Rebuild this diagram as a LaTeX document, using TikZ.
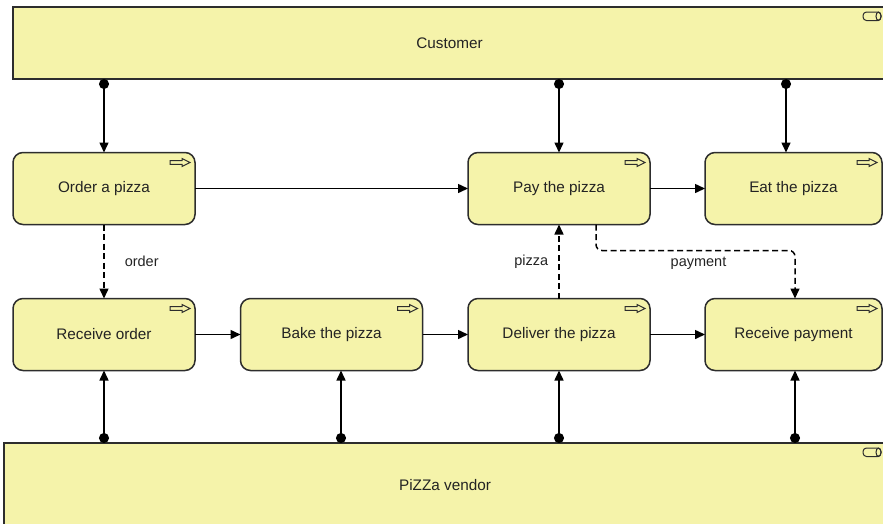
\documentclass[tikz,border=0pt]{standalone}
\usepackage{fontspec}
\setmainfont{Liberation Sans}
\usetikzlibrary{arrows.meta,calc}
\definecolor{boxfill}{RGB}{245,243,170}
\definecolor{boxline}{RGB}{45,45,45}
\definecolor{ink}{RGB}{35,35,35}

\tikzset{
  procicon/.pic={
    \draw[line width=1pt, draw=boxline]
      (0,2.2) -- (12,2.2) -- (12,0) -- (20,4) -- (12,8) -- (12,5.8) -- (0,5.8) -- cycle;
  },
  roleicon/.pic={
    \draw[line width=1pt, draw=boxline, rounded corners=3.5pt] (0,0) rectangle (18,8.5);
    \draw[line width=1pt, draw=boxline] (15.5,4.25) ellipse (2.5pt and 4.25pt);
  }
}

\begin{document}
\begin{tikzpicture}[x=1pt,y=-1pt,
  every node/.style={font=\fontsize{15.3}{18}\selectfont, text=ink},
  band/.style={draw=boxline, fill=boxfill, line width=1.5pt, inner sep=0pt, outer sep=0pt},
  proc/.style={band, rounded corners=10pt, minimum width=182pt, minimum height=72pt},
  link/.style={draw=black, line width=1.5pt},
  flow/.style={link, {Circle[length=10pt]}-{Triangle[length=10pt,width=9pt]}},
  trig/.style={link, -{Triangle[length=10pt,width=9pt]}},
  acc/.style={link, dash pattern=on 6pt off 3.5pt, -{Triangle[length=10pt,width=9pt]}},
  lbl/.style={font=\fontsize{14.5}{17}\selectfont, text=ink, inner sep=0pt}
]
\useasboundingbox (0,0) rectangle (883,523);

% actor bands
\node[band, minimum width=873pt, minimum height=72pt] (cust) at (449.5,43) {Customer};
\node[band, minimum width=882pt, minimum height=84pt] (vend) at (445,485) {PiZZa vendor};
\pic at (863,12) {roleicon};
\pic at (863,448) {roleicon};

% processes
\node[proc] (ordr) at (104,188.5) {Order a pizza};
\node[proc] (pay)  at (559,188.5) {Pay the pizza};
\node[proc, minimum width=177pt] (eat) at (793.5,188.5) {Eat the pizza};
\node[proc] (rcvo) at (104,334.5) {Receive order};
\node[proc] (bake) at (331.5,334.5) {Bake the pizza};
\node[proc] (dlvr) at (559,334.5) {Deliver the pizza};
\node[proc, minimum width=177pt] (rcvp) at (793.5,334.5) {Receive payment};

\foreach \n in {ordr,pay,eat,rcvo,bake,dlvr,rcvp}
  \pic at ([xshift=-25pt,yshift=-6pt]\n.north east) {procicon};

% attachment points off the box centres
\coordinate (eattop)  at ([xshift=-7.5pt]eat.north);
\coordinate (bakebot) at ([xshift=9.5pt]bake.south);
\coordinate (rcvpbot) at ([xshift=1.5pt]rcvp.south);
\coordinate (paydrop) at ([xshift=37pt]pay.south);
\coordinate (rcvptop) at ([xshift=1.5pt]rcvp.north);

% customer assignments
\draw[flow] (cust.south -| ordr.north) -- (ordr.north);
\draw[flow] (cust.south -| pay.north) -- (pay.north);
\draw[flow] (cust.south -| eattop) -- (eattop);

% vendor assignments
\draw[flow] (vend.north -| rcvo.south) -- (rcvo.south);
\draw[flow] (vend.north -| bakebot) -- (bakebot);
\draw[flow] (vend.north -| dlvr.south) -- (dlvr.south);
\draw[flow] (vend.north -| rcvpbot) -- (rcvpbot);

% triggers
\draw[trig] (ordr.east) -- (pay.west);
\draw[trig] (pay.east) -- (eat.west);
\draw[trig] (rcvo.east) -- (bake.west);
\draw[trig] (bake.east) -- (dlvr.west);
\draw[trig] (dlvr.east) -- (rcvp.west);

% flows of objects
\draw[acc] (ordr.south) -- (rcvo.north)
  node[lbl, midway, anchor=west, xshift=20pt] {order};
\draw[acc] (dlvr.north) -- (pay.south)
  node[lbl, midway, anchor=east, xshift=-10pt] {pizza};
\draw[acc, rounded corners=6pt] (paydrop) -- ++(0,26) -| (rcvptop);
\node[lbl] (paylbl) at ($(paydrop)!0.5!(rcvptop)+(3,2)$) {payment};
\end{tikzpicture}
\end{document}
